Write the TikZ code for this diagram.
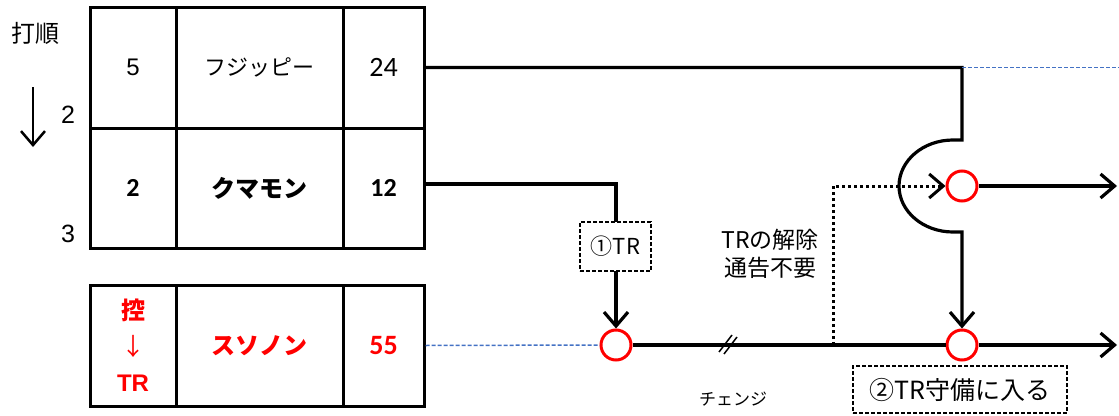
\documentclass[tikz,border=0pt]{standalone}
\usepackage{fontspec}
\setmainfont{Noto Sans CJK JP}
\newfontfamily\numf{Carlito}
\newfontfamily\arf{Liberation Sans}
\usetikzlibrary{arrows.meta}
\definecolor{myred}{RGB}{255,0,0}
\definecolor{myblue}{RGB}{68,114,196}
\tikzset{
  cell/.style={draw, line width=3pt, inner sep=0pt, minimum height=#1, font=\fontsize{22}{24}\selectfont},
  thick line/.style={line width=3.2pt},
  arr/.style={-{Straight Barb[length=14pt,width=24pt]}},
  circ/.style={circle, draw=myred, line width=3pt, minimum size=30pt, inner sep=0pt, fill=white},
  bluedash/.style={draw=myblue, line width=1.5pt, dash pattern=on 4pt off 2pt},
  lbox/.style={draw, line width=1.3pt, dash pattern=on 4pt off 2pt, fill=white, inner sep=0pt},
}
\begin{document}
\begin{tikzpicture}[x=1pt,y=-1pt]
\useasboundingbox (0,0) rectangle (1119,415);
% table
\node[cell=121pt, minimum width=86pt] (r1c1) at (133,67.5) {\arf\fontsize{24}{26}\selectfont 5};
\node[cell=121pt, minimum width=167pt] (r1c2) at (259.5,67.5) {フジッピー};
\node[cell=121pt, minimum width=81pt] (r1c3) at (383.5,67.5) {\numf\fontsize{28}{30}\selectfont 24};
\node[cell=120pt, minimum width=86pt] (r2c1) at (133,188) {\numf\bfseries\fontsize{26}{30}\selectfont 2};
\node[cell=120pt, minimum width=167pt] (r2c2) at (259.5,188) {\bfseries\fontsize{24}{26}\selectfont クマモン};
\node[cell=120pt, minimum width=81pt] (r2c3) at (383.5,188) {\numf\bfseries\fontsize{26}{30}\selectfont 12};
\node[cell=121pt, minimum width=86pt, text=myred, align=center, font=\fontsize{24}{36}\selectfont] (r3c1) at (133,345.5) {\bfseries 控\\↓\\\arf\bfseries TR};
\node[cell=121pt, minimum width=167pt, text=myred] (r3c2) at (259.5,345.5) {\bfseries\fontsize{24}{26}\selectfont スソノン};
\node[cell=121pt, minimum width=81pt, text=myred] (r3c3) at (383.5,345.5) {\numf\bfseries\fontsize{28}{30}\selectfont 55};
% left labels
\node[font=\fontsize{24}{26}\selectfont] (order) at (35,33) {打順};
\coordinate (ta) at (33,87);
\coordinate (tb) at (33,147);
\draw[line width=2.5pt, arr] (ta) -- (tb);
\node[font=\arf\fontsize{25}{26}\selectfont] (n2) at (68,115) {2};
\node[font=\arf\fontsize{25}{26}\selectfont] (n3) at (68,234) {3};
% circles
\node[circ] (c1) at (616,345) {};
\node[circ] (c2) at (962,186) {};
\node[circ] (c3) at (962,345) {};
% ends
\coordinate (tr) at (962,67.5);
\coordinate (end1) at (1117,186);
\coordinate (end2) at (1117,345);
\coordinate (blueend) at (1119,67.5);
\coordinate (dotc) at (833,345);
% lines
\draw[thick line, arr] (r1c3.east) -- (tr) -- (962,140) -- (953,140)
  arc[start angle=90, end angle=270, x radius=54pt, y radius=46pt] -- (962,232) -- (c3.north);
\draw[bluedash] (tr) -- (blueend);
\draw[bluedash] (r3c3.east) -- (c1.west);
\draw[thick line, arr] ([yshift=4pt]r2c3.east) -| (c1.north);
\node[lbox, minimum width=71pt, minimum height=49pt, font=\fontsize{22}{24}\selectfont] (b1) at (615.5,246.5) {①TR};
\draw[thick line] (c1.east) -- (c3.west);
\draw[thick line, arr] (c3.east) -- (end2);
\draw[thick line, arr] (c2.east) -- (end1);
\draw[line width=3pt, dash pattern=on 3pt off 3pt, arr] (dotc) |- (c2.west);
% break mark
\draw[line width=1.5pt] (719,352) -- (732,335) (724,354) -- (737,337);
% texts
\node[font=\fontsize{23}{28}\selectfont, align=center] (rel) at (770,254) {TRの解除\\通告不要};
\node[font=\fontsize{17}{20}\selectfont] (chg) at (733,399) {チェンジ};
\node[lbox, minimum width=214pt, minimum height=47pt, font=\fontsize{25}{26}\selectfont] (b2) at (960,389.5) {②TR守備に入る};
\end{tikzpicture}
\end{document}
